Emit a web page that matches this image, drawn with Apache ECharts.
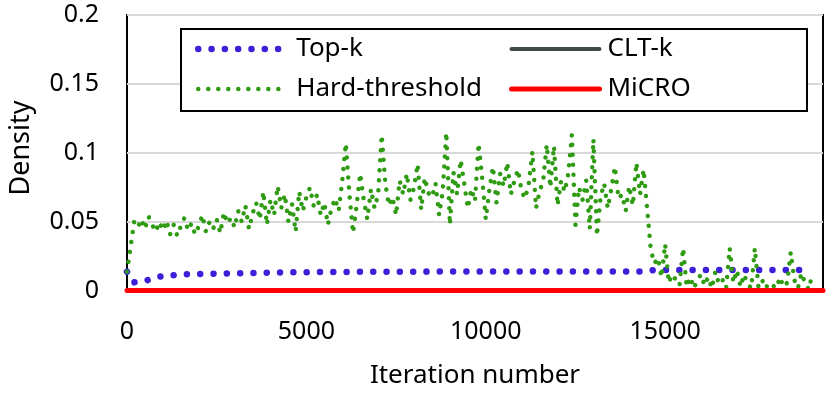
<!DOCTYPE html>
<html>
<head>
<meta charset="utf-8" />
<script src="https://cdn.jsdelivr.net/npm/echarts@6/dist/echarts.min.js"></script>
<style>
  html, body { margin: 0; padding: 0; background: #fff; }
  #chart { width: 832px; height: 394px; }
</style>
</head>
<body>
<div id="chart"></div>
<script>
// iterations (x) for Top-k
const TOPK_ITER = [0, 190, 530, 890, 1250, 1610, 1970, 2330, 3050, 4500, 5600, 9000, 14300, 14700, 19100];
const TOPK_VALUES = [0.014, 0.0063, 0.0075, 0.0104, 0.0114, 0.0121, 0.0123, 0.0125, 0.0129, 0.0135, 0.0138, 0.0141, 0.0142, 0.0152, 0.0152];

// Hard-threshold, one value every 100 iterations (0 .. 19100)
const HARD_STEP = 100;
const HARD_VALUES = [
  0.014, 0.032, 0.050, 0.046, 0.052, 0.045, 0.054, 0.048, 0.043, 0.050,
  0.044, 0.051, 0.041, 0.048, 0.040, 0.047, 0.053, 0.044, 0.049, 0.041,
  0.047, 0.055, 0.043, 0.050, 0.045, 0.052, 0.042, 0.057, 0.049, 0.053,
  0.046, 0.058, 0.050, 0.062, 0.045, 0.056, 0.064, 0.052, 0.072, 0.048,
  0.066, 0.055, 0.076, 0.060, 0.070, 0.050, 0.063, 0.043, 0.072, 0.058,
  0.068, 0.075, 0.062, 0.070, 0.055, 0.064, 0.048, 0.060, 0.067, 0.058,
  0.080, 0.107, 0.070, 0.042, 0.062, 0.085, 0.066, 0.052, 0.074, 0.060,
  0.070, 0.113, 0.078, 0.062, 0.068, 0.055, 0.080, 0.070, 0.085, 0.066,
  0.075, 0.092, 0.059, 0.082, 0.071, 0.068, 0.078, 0.055, 0.072, 0.115,
  0.048, 0.086, 0.070, 0.095, 0.078, 0.060, 0.074, 0.065, 0.107, 0.082,
  0.052, 0.073, 0.090, 0.064, 0.085, 0.076, 0.093, 0.070, 0.080, 0.088,
  0.072, 0.067, 0.078, 0.101, 0.060, 0.072, 0.080, 0.106, 0.075, 0.105,
  0.062, 0.080, 0.072, 0.085, 0.113, 0.048, 0.075, 0.066, 0.080, 0.045,
  0.110, 0.040, 0.068, 0.078, 0.060, 0.074, 0.090, 0.067, 0.070, 0.058,
  0.076, 0.062, 0.093, 0.070, 0.088, 0.059, 0.030, 0.020, 0.024, 0.010,
  0.034, 0.006, 0.012, 0.008, 0.004, 0.031, 0.003, 0.010, 0.002, 0.008,
  0.012, 0.004, 0.010, 0.002, 0.014, 0.005, 0.008, 0.002, 0.031, 0.006,
  0.015, 0.003, 0.012, 0.005, 0.002, 0.031, 0.003, 0.008, 0.002, 0.006,
  0.004, 0.002, 0.010, 0.003, 0.006, 0.028, 0.008, 0.002, 0.013, 0.006,
  0.001, 0.012
];

// CLT-k and MiCRO sit on zero for the whole run
const FLAT_ITER = [0, 19400];
const CLTK_VALUES = [0.0003, 0.0003];
const MICRO_VALUES = [0.0003, 0.0003];

const X_MAX = 19400;
const Y_TICKS = [0, 0.05, 0.1, 0.15, 0.2];

const FONT = '"Noto Sans", sans-serif';

const TOPK_COLOR = '#3c1fd8';
const CLTK_COLOR = '#3f4b4b';
const HARD_COLOR = '#2e9b12';
const MICRO_COLOR = '#ff0000';

function zip(xs, ys) {
  return xs.map((x, i) => [x, ys[i]]);
}

const hardData = HARD_VALUES.map((v, i) => [i * HARD_STEP, v]);

const chart = echarts.init(document.getElementById('chart'), null, { renderer: 'canvas' });

// 图例：只画线，不画中间的圆点
function legendItem(name, lineStyle) {
  return { name: name, itemStyle: { opacity: 0 }, lineStyle: lineStyle };
}

const option = {
  animation: false,
  textStyle: { fontFamily: FONT, color: '#000' },
  grid: {
    left: 125, right: 9, top: 15, bottom: 103,
    show: true, borderColor: '#000', borderWidth: 2, backgroundColor: 'transparent'
  },
  graphic: [
    {
      // 图例外框
      type: 'rect', left: 180, top: 28, z: 3,
      shape: { width: 626, height: 82 },
      style: { fill: '#fff', stroke: '#000', lineWidth: 2 }
    }
  ],
  legend: [
    {
      left: 195, top: 34, orient: 'vertical', padding: 0,
      itemWidth: 86, itemHeight: 30, itemGap: 10,
      data: [
        legendItem('Top-k', { width: 6.5, type: [0.01, 13.3], cap: 'round', color: TOPK_COLOR }),
        legendItem('Hard-threshold', { width: 4.5, type: [0.01, 10], cap: 'round', color: HARD_COLOR })
      ],
      textStyle: { fontFamily: FONT, fontSize: 26, color: '#000', lineHeight: 30, padding: [0, 0, 0, 7] },
      z: 5
    },
    {
      left: 509, top: 34, orient: 'vertical', padding: 0,
      itemWidth: 88, itemHeight: 30, itemGap: 10,
      data: [
        legendItem('CLT-k', { width: 4, type: 'solid', cap: 'round', color: CLTK_COLOR }),
        legendItem('MiCRO', { width: 5, type: 'solid', cap: 'round', color: MICRO_COLOR })
      ],
      textStyle: { fontFamily: FONT, fontSize: 26, color: '#000', lineHeight: 30, padding: [0, 0, 0, 3] },
      z: 5
    }
  ],
  xAxis: {
    type: 'value', min: 0, max: X_MAX, interval: 5000,
    name: 'Iteration number', nameLocation: 'middle', nameGap: 72,
    nameTextStyle: { fontFamily: FONT, fontSize: 26, color: '#000' },
    axisLine: { show: false },
    axisTick: { show: false },
    splitLine: { show: false },
    axisLabel: {
      fontFamily: FONT, fontSize: 25, color: '#000', margin: 28, showMaxLabel: false,
      formatter: (v) => String(v)
    }
  },
  yAxis: {
    type: 'value', min: Y_TICKS[0], max: Y_TICKS[Y_TICKS.length - 1], interval: 0.05,
    name: 'Density', nameLocation: 'middle', nameGap: 92,
    nameTextStyle: { fontFamily: FONT, fontSize: 27, color: '#000', padding: [0, 0, 0, 10] },
    axisLine: { show: false },
    axisTick: { show: false },
    splitLine: { lineStyle: { color: '#d9d9d9', width: 2 } },
    axisLabel: { fontFamily: FONT, fontSize: 25, color: '#000', margin: 28 }
  },
  series: [
    {
      name: 'Top-k', type: 'line', symbol: 'none', z: 2,
      data: zip(TOPK_ITER, TOPK_VALUES),
      lineStyle: { color: TOPK_COLOR, width: 6.5, type: [0.01, 13.3], cap: 'round', join: 'round' },
      itemStyle: { color: TOPK_COLOR }
    },
    {
      name: 'CLT-k', type: 'line', symbol: 'none', z: 2,
      data: zip(FLAT_ITER, CLTK_VALUES),
      lineStyle: { color: CLTK_COLOR, width: 4 },
      itemStyle: { color: CLTK_COLOR }
    },
    {
      name: 'Hard-threshold', type: 'line', symbol: 'none', z: 2,
      data: hardData,
      lineStyle: { color: HARD_COLOR, width: 4.5, type: [0.01, 10], cap: 'round', join: 'round' },
      itemStyle: { color: HARD_COLOR }
    },
    {
      name: 'MiCRO', type: 'line', symbol: 'none', z: 2,
      data: zip(FLAT_ITER, MICRO_VALUES),
      lineStyle: { color: MICRO_COLOR, width: 5, cap: 'round' },
      itemStyle: { color: MICRO_COLOR }
    }
  ]
};

chart.setOption(option);
</script>
</body>
</html>
